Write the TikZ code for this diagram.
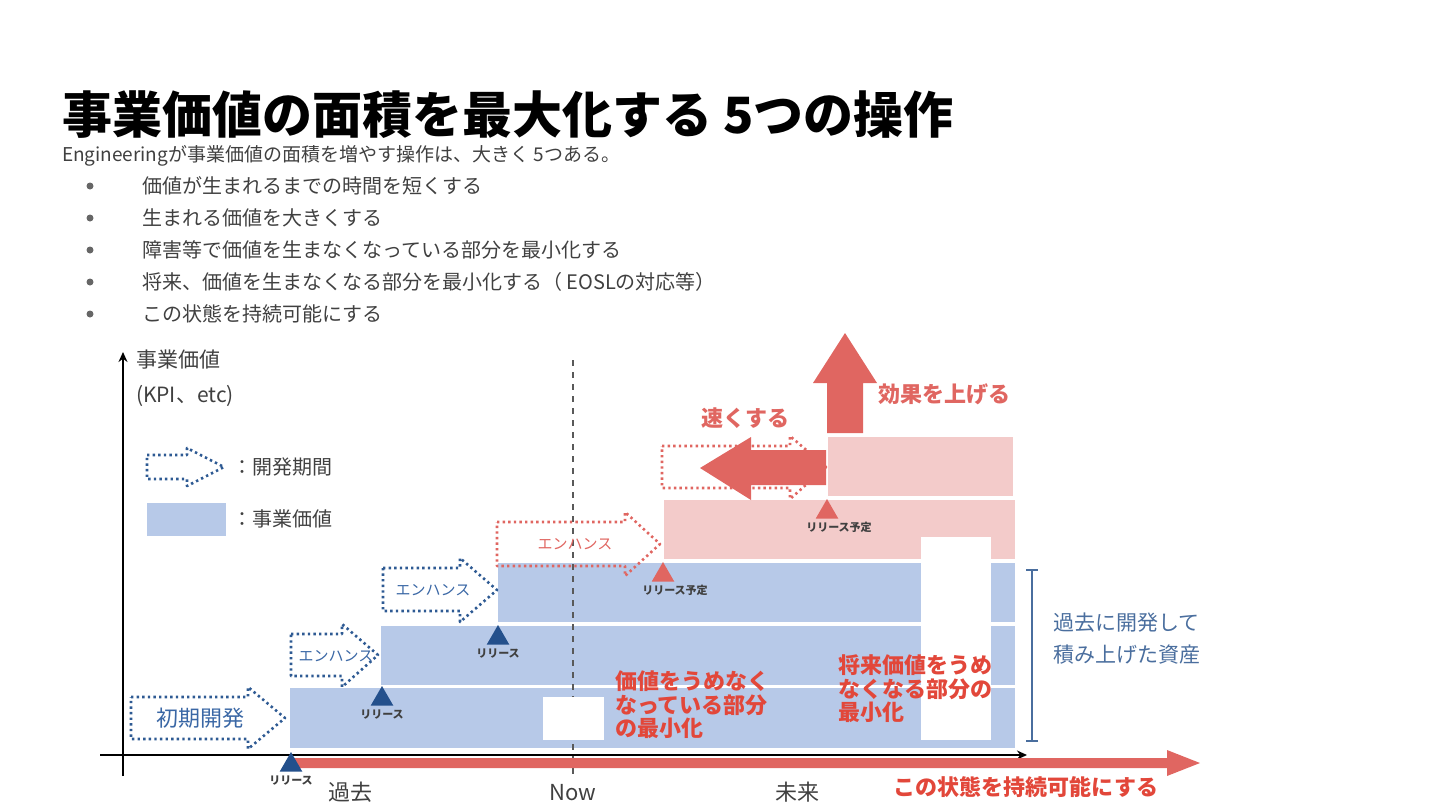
\documentclass[tikz,border=0pt]{standalone}
\usepackage{fontspec}
\setmainfont{Noto Sans CJK JP}
\usetikzlibrary{positioning,shapes.geometric,arrows.meta}
\definecolor{barblue}{HTML}{B7C9E8}
\definecolor{barpink}{HTML}{F3CBCA}
\definecolor{accred}{HTML}{E06661}
\definecolor{textred}{HTML}{E2473A}
\definecolor{devblue}{HTML}{2E5A93}
\definecolor{devtext}{HTML}{3A67A5}
\definecolor{relblue}{HTML}{24508C}
\definecolor{assetblue}{HTML}{4A6E9E}
\definecolor{graytext}{HTML}{404040}

\begin{document}
\begin{tikzpicture}[x=0.5pt,y=-0.5pt,
    every node/.style={inner sep=0pt,outer sep=0pt},
    devarrow/.style={draw=devblue,line width=1.3pt,dash pattern=on 1.2pt off 1.6pt,line join=round},
    planarrow/.style={devarrow,draw=accred},
    enh/.style={font=\fontsize{7.5}{8}\selectfont,text=devtext},
    marker/.style={regular polygon,regular polygon sides=3,minimum size=13pt,anchor=corner 1},
    relnote/.style={font=\fontsize{5.5}{6}\selectfont\bfseries,text=black!75},
    note/.style={font=\fontsize{11}{11.8}\selectfont\bfseries,text=textred,align=left,anchor=west},
    axisline/.style={draw=black,line width=1.4pt},
    nowline/.style={draw=black!65,line width=1.1pt,dash pattern=on 3pt off 3pt}]
\useasboundingbox (0,0) rectangle (1440,810);

% heading and list
\node[anchor=west,font=\fontsize{25}{30}\selectfont\bfseries] (title) at (62,115) {事業価値の面積を最大化する 5つの操作};
\node[anchor=west,font=\fontsize{9.5}{11}\selectfont,text=graytext] (lead) at (62,156) {Engineeringが事業価値の面積を増やす操作は、大きく 5つある。};
\foreach \txt [count=\i] in {価値が生まれるまでの時間を短くする,生まれる価値を大きくする,障害等で価値を生まなくなっている部分を最小化する,将来、価値を生まなくなる部分を最小化する（ EOSLの対応等）,この状態を持続可能にする} {
  \node[circle,fill=graytext!80,minimum size=3.5pt] (dot\i) at (90,154+32*\i) {};
  \node[anchor=west,font=\fontsize{10}{12}\selectfont,text=graytext] (item\i) at (142,154+32*\i) {\txt};
}

% value blocks
\fill[barblue] (290,688) rectangle (1015,748);
\fill[barblue] (381,626) rectangle (1015,685);
\fill[barblue] (498,563) rectangle (1015,622);
\fill[barpink] (664,500) rectangle (1015,559);
\fill[barpink] (828,437) rectangle (1013,496);

\coordinate (nowtop) at (573,360);
\coordinate (nowbot) at (573,778);
\draw[nowline] (nowtop) -- (nowbot);

% lost parts
\fill[white] (543,697) rectangle (604,740);
\fill[white] (921,537) rectangle (991,740);

% development periods
\draw[devarrow] (131,697) -- (248,697) -- (248,687) -- (285,718) -- (248,749) -- (248,739) -- (131,739) -- cycle;
\node[font=\fontsize{11}{12}\selectfont,text=devtext] (initial) at (200,718) {初期開発};
\draw[devarrow] (291,634) -- (342,634) -- (342,624) -- (378,655) -- (342,687) -- (342,676) -- (291,676) -- cycle;
\node[enh] (enh1) at (336,656) {エンハンス};
\draw[devarrow] (383,568) -- (460,568) -- (460,558) -- (497,590) -- (460,622) -- (460,611) -- (383,611) -- cycle;
\node[enh] (enh2) at (433,590) {エンハンス};
\draw[planarrow] (497,522) -- (625,522) -- (625,512) -- (660,544) -- (625,576) -- (625,566) -- (497,566) -- cycle;
\node[enh,text=accred] (enh3) at (575,544) {エンハンス};
\draw[planarrow] (662,446) -- (790,446) -- (790,436) -- (826,467) -- (790,499) -- (790,488) -- (662,488) -- cycle;

% legend
\draw[devarrow] (147,455) -- (187,455) -- (187,448) -- (224,467) -- (187,486) -- (187,479) -- (147,479) -- cycle;
\node[anchor=west,font=\fontsize{10}{12}\selectfont,text=graytext] (legdev) at (232,467) {：開発期間};
\fill[barblue] (147,503) rectangle (226,536);
\node[anchor=west,font=\fontsize{10}{12}\selectfont,text=graytext] (legval) at (232,519) {：事業価値};

% axes
\coordinate (ybot) at (123,776);
\coordinate (ytop) at (123,352);
\coordinate (xleft) at (100,755);
\coordinate (xright) at (1027,755);
\draw[axisline,-{Stealth[length=5pt,width=4.5pt]}] (ybot) -- (ytop);
\draw[axisline,-{Stealth[length=5pt,width=4.5pt]}] (xleft) -- (xright);
\node[anchor=west,font=\fontsize{10.5}{12}\selectfont,text=graytext] (ylabel) at (136,360) {事業価値};
\node[anchor=west,font=\fontsize{10.5}{12}\selectfont,text=graytext] (yunit) at (136,396) {(KPI、etc)};

% keep it going
\fill[accred] (290,758) -- (1167,758) -- (1167,750) -- (1200,763) -- (1167,776) -- (1167,768) -- (290,768) -- cycle;

% releases
\node[marker,fill=relblue] (rel1) at (291,752) {};
\node[relnote,below=2pt of rel1] (rel1txt) {リリース};
\node[marker,fill=relblue] (rel2) at (382,686) {};
\node[relnote,below=2pt of rel2] (rel2txt) {リリース};
\node[marker,fill=relblue] (rel3) at (498,625) {};
\node[relnote,below=2pt of rel3] (rel3txt) {リリース};
\node[marker,fill=accred] (rel4) at (663,562) {};
\node[relnote,below=2pt of rel4,xshift=6pt] (rel4txt) {リリース予定};
\node[marker,fill=accred] (rel5) at (827,499) {};
\node[relnote,below=2pt of rel5,xshift=6pt] (rel5txt) {リリース予定};

% faster and bigger
\fill[accred] (826,450) -- (751,450) -- (751,437) -- (700,468) -- (751,500) -- (751,485) -- (826,485) -- cycle;
\node[font=\fontsize{11}{12}\selectfont\bfseries,text=accred] (faster) at (745,418) {速くする};
\fill[accred] (827,433) -- (827,383) -- (813,383) -- (845,333) -- (877,383) -- (863,383) -- (863,433) -- cycle;
\node[anchor=west,font=\fontsize{11}{12}\selectfont\bfseries,text=accred] (bigger) at (878,394) {効果を上げる};

% notes
\node[note] (lostnow) at (615,705) {価値をうめなく\\なっている部分\\の最小化};
\node[note] (lostlater) at (838,689) {将来価値をうめ\\なくなる部分の\\最小化};

\coordinate (astop) at (1032,569);
\coordinate (asbot) at (1032,742);
\draw[draw=assetblue,line width=1.1pt,{Bar[width=6pt]}-{Bar[width=6pt]}] (astop) -- (asbot);
\node[anchor=west,align=left,font=\fontsize{10.5}{16}\selectfont,text=assetblue] (assets) at (1053,639) {過去に開発して\\積み上げた資産};

\node[font=\fontsize{11}{12}\selectfont,text=graytext] (past) at (350,792) {過去};
\node[font=\fontsize{11}{12}\selectfont,text=graytext] (now) at (573,793) {Now};
\node[font=\fontsize{11}{12}\selectfont,text=graytext] (future) at (797,792) {未来};
\node[font=\fontsize{11}{12}\selectfont\bfseries,text=textred] (sustain) at (1026,787) {この状態を持続可能にする};
\end{tikzpicture}
\end{document}
